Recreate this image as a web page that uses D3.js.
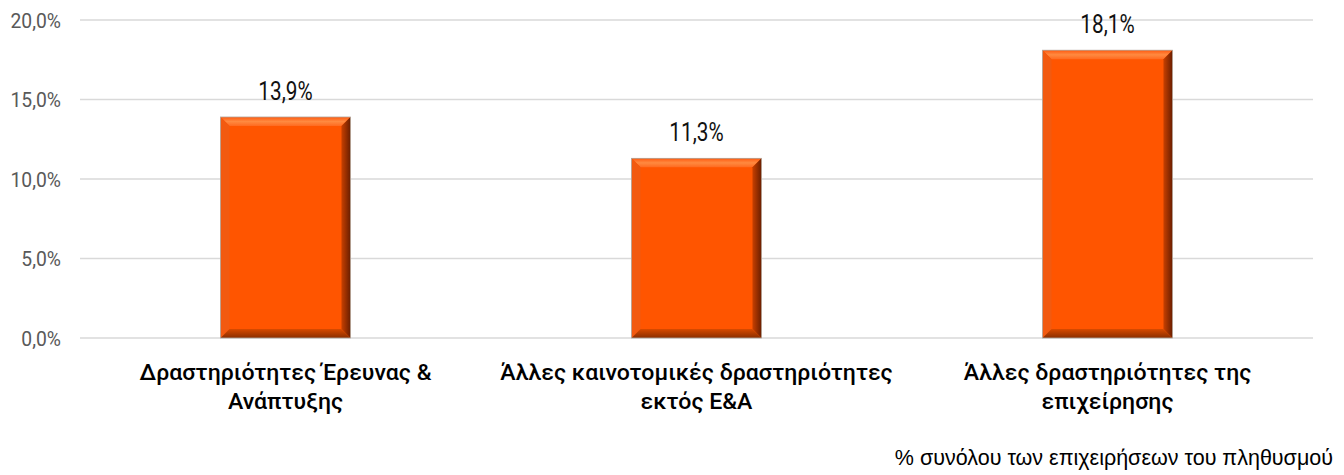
<!DOCTYPE html>
<html><head><meta charset="utf-8">
<script src="https://cdn.jsdelivr.net/npm/d3@7"></script>
<style>body{margin:0;background:#fff}svg{display:block}</style>
</head><body>
<svg id="c" width="1344" height="475"></svg>
<script>
const categories = [["Δραστηριότητες Έρευνας &","Ανάπτυξης"],["Άλλες καινοτομικές δραστηριότητες","εκτός Ε&Α"],["Άλλες δραστηριότητες της","επιχείρησης"]];
const values = [13.9, 11.3, 18.1];
const tickValues = [0, 5, 10, 15, 20];
const footnote = "% συνόλου των επιχειρήσεων του πληθυσμού";

const svg = d3.select("#c");
const x = d3.scaleBand().domain(d3.range(values.length)).range([80, 1313]).paddingInner(0.684).paddingOuter(0.342);
const y = d3.scaleLinear().domain([0, 20]).range([338, 20]);
const fmt = v => d3.format(".1f")(v).replace(".", ",") + "%";
const condense = (sel, k) => sel.each(function() {
  const w = this.getComputedTextLength();
  d3.select(this).attr("textLength", w * k).attr("lengthAdjust", "spacingAndGlyphs");
});

const defs = svg.append("defs");
const grid = svg.append("g");
grid.selectAll("line").data(tickValues).join("line")
  .attr("x1", 80).attr("x2", 1313).attr("y1", d => y(d)).attr("y2", d => y(d))
  .attr("stroke", "#d9d9d9").attr("stroke-width", 1.5);

const yAxis = d3.axisLeft(y).tickValues(tickValues).tickFormat(fmt).tickSize(0).tickPadding(0);
const ya = svg.append("g").attr("transform", "translate(61,0)").call(yAxis);
ya.select(".domain").remove();
ya.selectAll("text").attr("font-family", "Roboto, sans-serif").attr("font-size", 21).attr("fill", "#595959").attr("dy", "0.35em").call(condense, 0.92);

const bars = svg.append("g").selectAll("g").data(values).join("g");
const bev = 9;
bars.each(function(d, i) {
  const g = d3.select(this);
  const x0 = x(i), x1 = x(i) + x.bandwidth(), y0 = y(d), y1 = y(0);
  g.append("rect").attr("x", x0).attr("y", y0).attr("width", x1 - x0).attr("height", y1 - y0).attr("fill", "#ff5500");
  const tid = "gt" + i;
  const lt = defs.append("linearGradient").attr("id", tid).attr("x1", 0).attr("x2", 0).attr("y1", 0).attr("y2", 1);
  lt.append("stop").attr("offset", 0).attr("stop-color", "#ff5a10");
  lt.append("stop").attr("offset", 0.5).attr("stop-color", "#ff8a40");
  lt.append("stop").attr("offset", 1).attr("stop-color", "#ff6a20");
  g.append("polygon").attr("points", [[x0,y0],[x1,y0],[x1-bev,y0+bev],[x0+bev,y0+bev]].join(" ")).attr("fill", `url(#${tid})`);
  g.append("polygon").attr("points", [[x0,y0],[x0+bev,y0+bev],[x0+bev,y1-bev],[x0,y1]].join(" ")).attr("fill", "#f25a10");
  const gid = "gr" + i;
  const lg = defs.append("linearGradient").attr("id", gid).attr("x1", 0).attr("x2", 1).attr("y1", 0).attr("y2", 0);
  lg.append("stop").attr("offset", 0).attr("stop-color", "#c84000");
  lg.append("stop").attr("offset", 1).attr("stop-color", "#6a1e00");
  g.append("polygon").attr("points", [[x1,y0],[x1,y1],[x1-bev,y1-bev],[x1-bev,y0+bev]].join(" ")).attr("fill", `url(#${gid})`);
  const bid = "gb" + i;
  const lb = defs.append("linearGradient").attr("id", bid).attr("x1", 0).attr("x2", 0).attr("y1", 0).attr("y2", 1);
  lb.append("stop").attr("offset", 0).attr("stop-color", "#d84a00");
  lb.append("stop").attr("offset", 1).attr("stop-color", "#8a2e00");
  g.append("polygon").attr("points", [[x0,y1],[x1,y1],[x1-bev,y1-bev],[x0+bev,y1-bev]].join(" ")).attr("fill", `url(#${bid})`);
  g.append("rect").attr("x", x0).attr("y", y0).attr("width", x1 - x0).attr("height", y1 - y0).attr("fill", "none").attr("stroke", "#b0a8a0").attr("stroke-width", 0.8);
});

svg.append("g").selectAll("text").data(values).join("text")
  .attr("x", (d, i) => x(i) + x.bandwidth() / 2).attr("y", d => y(d) - 17)
  .attr("text-anchor", "middle").attr("font-family", "Roboto, sans-serif").attr("font-size", 25).attr("fill", "#111")
  .text(fmt).call(condense, 0.83);

const cat = svg.append("g").selectAll("text").data(categories).join("text")
  .attr("text-anchor", "middle").attr("font-family", "Roboto, sans-serif").attr("font-size", 22).attr("font-weight", 500).attr("fill", "#000");
cat.each(function(lines, i) {
  const t = d3.select(this);
  lines.forEach((l, k) => t.append("tspan").attr("x", x(i) + x.bandwidth() / 2).attr("y", 380 + k * 29).text(l));
});
cat.selectAll("tspan").call(condense, 1.05);

svg.append("text").attr("x", 1333).attr("y", 465).attr("text-anchor", "end")
  .attr("font-family", "Liberation Sans, Arial, sans-serif").attr("font-size", 21.5).attr("fill", "#000").text(footnote);
</script>
</body></html>
